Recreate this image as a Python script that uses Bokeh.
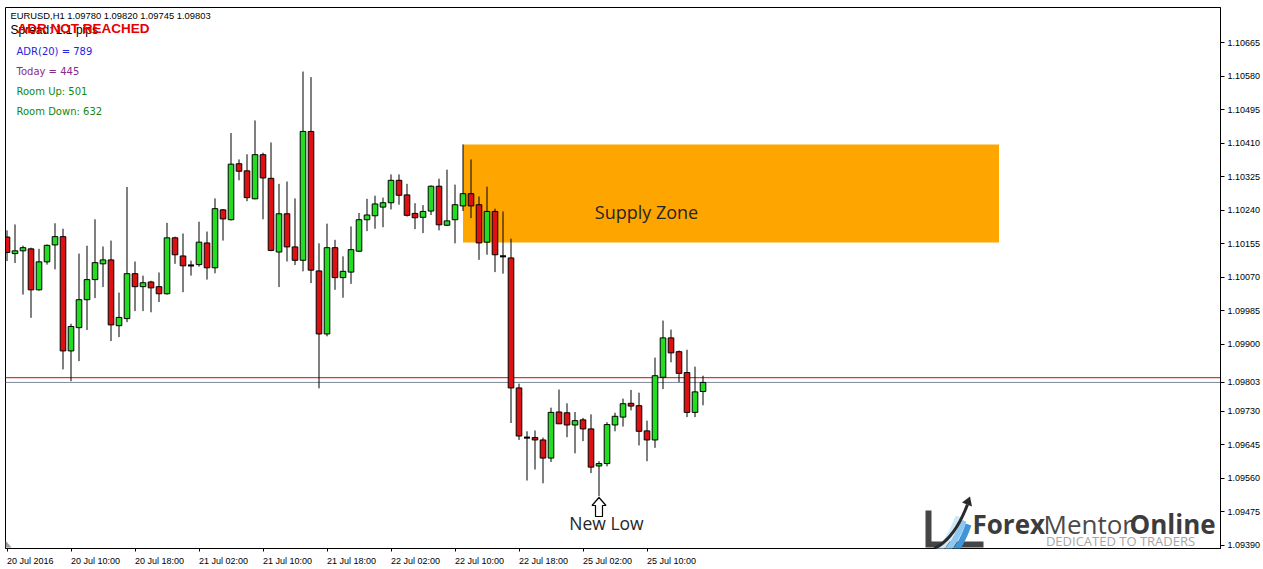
import numpy as np
from bokeh.plotting import figure
from bokeh.models import (Range1d, FixedTicker, PrintfTickFormatter, Span, Label,
                          PolyAnnotation, ColumnDataSource)
from bokeh.embed import file_html
from bokeh.resources import INLINE

# ---------------- data (EURUSD H1) ----------------
opens = [1.10172, 1.10130, 1.10137, 1.10142, 1.10038, 1.10109, 1.10152, 1.10173, 1.09883, 1.09942,
         1.10013, 1.10064, 1.10104, 1.10114, 1.09947, 1.09965, 1.10079, 1.10046, 1.10058, 1.10046,
         1.10028, 1.10170, 1.10124, 1.10100, 1.10102, 1.10157, 1.10094, 1.10241, 1.10216, 1.10358,
         1.10340, 1.10269, 1.10381, 1.10321, 1.10134, 1.10231, 1.10147, 1.10113, 1.10440, 1.10086,
         1.09926, 1.10145, 1.10069, 1.10083, 1.10136, 1.10216, 1.10226, 1.10248, 1.10259, 1.10316,
         1.10279, 1.10232, 1.10222, 1.10238, 1.10301, 1.10202, 1.10216, 1.10251, 1.10282, 1.10254,
         1.10159, 1.10237, 1.10123, 1.10119, 1.09789, 1.09663, 1.09663, 1.09657, 1.09611, 1.09728,
         1.09726, 1.09695, 1.09708, 1.09685, 1.09591, 1.09597, 1.09695, 1.09715, 1.09750, 1.09744,
         1.09680, 1.09657, 1.09816, 1.09916, 1.09881, 1.09828, 1.09727, 1.09780]
highs = [1.10189, 1.10204, 1.10150, 1.10145, 1.10142, 1.10153, 1.10207, 1.10193, 1.09952, 1.10130,
         1.10150, 1.10217, 1.10148, 1.10163, 1.10031, 1.10299, 1.10110, 1.10074, 1.10061, 1.10082,
         1.10208, 1.10173, 1.10181, 1.10112, 1.10211, 1.10186, 1.10270, 1.10243, 1.10436, 1.10369,
         1.10382, 1.10468, 1.10386, 1.10412, 1.10307, 1.10313, 1.10270, 1.10592, 1.10578, 1.10156,
         1.10206, 1.10165, 1.10123, 1.10199, 1.10233, 1.10269, 1.10277, 1.10272, 1.10331, 1.10331,
         1.10307, 1.10258, 1.10253, 1.10303, 1.10320, 1.10343, 1.10305, 1.10407, 1.10369, 1.10275,
         1.10300, 1.10244, 1.10237, 1.10168, 1.09800, 1.09679, 1.09681, 1.09663, 1.09739, 1.09785,
         1.09750, 1.09728, 1.09713, 1.09722, 1.09603, 1.09702, 1.09726, 1.09762, 1.09784, 1.09777,
         1.09706, 1.09866, 1.09960, 1.09937, 1.09884, 1.09886, 1.09843, 1.09820]
lows = [1.10111, 1.10106, 1.10026, 1.09967, 1.10036, 1.10102, 1.10090, 1.09836, 1.09806, 1.09857,
        1.09936, 1.10017, 1.10045, 1.09908, 1.09918, 1.09956, 1.09984, 1.09984, 1.09981, 1.10007,
        1.10026, 1.10104, 1.10032, 1.10074, 1.10097, 1.10064, 1.10080, 1.10163, 1.10214, 1.10316,
        1.10263, 1.10268, 1.10217, 1.10136, 1.10045, 1.10110, 1.10101, 1.10085, 1.10055, 1.09788,
        1.09920, 1.10038, 1.10018, 1.10053, 1.10134, 1.10187, 1.10193, 1.10197, 1.10242, 1.10254,
        1.10224, 1.10192, 1.10182, 1.10228, 1.10189, 1.10200, 1.10156, 1.10238, 1.10220, 1.10114,
        1.10127, 1.10083, 1.10079, 1.09700, 1.09657, 1.09554, 1.09582, 1.09547, 1.09601, 1.09698,
        1.09664, 1.09623, 1.09654, 1.09573, 1.09514, 1.09590, 1.09679, 1.09691, 1.09732, 1.09643,
        1.09603, 1.09637, 1.09786, 1.09854, 1.09804, 1.09715, 1.09715, 1.09745]
closes = [1.10133, 1.10137, 1.10145, 1.10038, 1.10109, 1.10151, 1.10173, 1.09883, 1.09945, 1.10013,
          1.10064, 1.10107, 1.10114, 1.09949, 1.09968, 1.10079, 1.10046, 1.10056, 1.10043, 1.10028,
          1.10170, 1.10127, 1.10099, 1.10100, 1.10159, 1.10094, 1.10244, 1.10218, 1.10357, 1.10339,
          1.10272, 1.10381, 1.10322, 1.10138, 1.10231, 1.10147, 1.10113, 1.10440, 1.10088, 1.09926,
          1.10145, 1.10069, 1.10085, 1.10140, 1.10216, 1.10228, 1.10256, 1.10259, 1.10316, 1.10278,
          1.10227, 1.10221, 1.10237, 1.10301, 1.10203, 1.10213, 1.10254, 1.10282, 1.10251, 1.10157,
          1.10237, 1.10127, 1.10123, 1.09789, 1.09667, 1.09663, 1.09657, 1.09611, 1.09727, 1.09698,
          1.09695, 1.09706, 1.09685, 1.09588, 1.09597, 1.09696, 1.09717, 1.09749, 1.09743, 1.09679,
          1.09657, 1.09820, 1.09916, 1.09878, 1.09826, 1.09727, 1.09779, 1.09803]

time_ticks = [0, 8, 16, 24, 32, 40, 48, 56, 64, 72, 80]
time_labels = ["20 Jul 2016", "20 Jul 10:00", "20 Jul 18:00", "21 Jul 02:00", "21 Jul 10:00",
               "21 Jul 18:00", "22 Jul 02:00", "22 Jul 10:00", "22 Jul 18:00", "25 Jul 02:00",
               "25 Jul 10:00"]
price_ticks = [1.10665, 1.10580, 1.10495, 1.10410, 1.10325, 1.10240, 1.10155, 1.10070,
               1.09985, 1.09900, 1.09730, 1.09645, 1.09560, 1.09475, 1.09390]

zone_start, zone_end = 57, 124
zone_top, zone_bottom = 1.10407, 1.10158
bid_price = 1.09803
ask_price = 1.09815
new_low_bar = 74

header = "EURUSD,H1  1.09780 1.09820 1.09745 1.09803"
info_texts = ["ADR(20) = 789", "Today = 445", "Room Up: 501", "Room Down: 632"]
info_colors = ["#2424e0", "#8a2b8a", "#118811", "#118811"]

# ---------------- layout ----------------
W, H = 1263, 569
LB, TB, RB, BB = 5, 7, 43, 21
FW, FH = W - LB - RB, H - TB - BB
PXB = 8.0                 # pixels per bar
PXP = 39400.0             # pixels per price unit
X0 = (LB - 6.5) / PXB
X1 = X0 + FW / PXB
Y1 = 1.10665 + (42.3 - TB) / PXP
Y0 = Y1 - FH / PXP


def X(px):
    return X0 + (np.asarray(px, dtype=float) - LB) / PXB


def Y(py):
    return Y1 - (np.asarray(py, dtype=float) - TB) / PXP


p = figure(width=W, height=H, x_range=Range1d(X0, X1), y_range=Range1d(Y0, Y1),
           y_axis_location="right", toolbar_location=None, output_backend="svg",
           min_border_left=LB, min_border_top=TB, min_border_right=RB, min_border_bottom=BB,
           background_fill_color="white", border_fill_color="white",
           outline_line_color="black")
p.grid.visible = False

# supply zone
p.quad(left=[zone_start], right=[zone_end], top=[zone_top], bottom=[zone_bottom],
       fill_color="#ffa500", line_color=None)

# price lines
p.add_layout(Span(location=ask_price, dimension="width", line_color="#e60000",
                  line_width=1, level="underlay"))
p.add_layout(Span(location=bid_price, dimension="width", line_color="#7d8a99",
                  line_width=1, level="underlay"))

# candles
idx = list(range(len(opens)))
up = [c >= o for o, c in zip(opens, closes)]
src = ColumnDataSource(dict(
    x=idx, h=highs, l=lows,
    top=[max(o, c) for o, c in zip(opens, closes)],
    bottom=[min(o, c) for o, c in zip(opens, closes)],
    color=["#22dd22" if u else "#dd1111" for u in up]))
p.segment(x0="x", y0="h", x1="x", y1="l", source=src, line_color="black", line_width=1)
p.vbar(x="x", top="top", bottom="bottom", width=0.7, fill_color="color",
       line_color="black", line_width=1, source=src)
dj = [i for i in idx if opens[i] == closes[i]]
p.segment(x0=[i - 0.38 for i in dj], x1=[i + 0.38 for i in dj],
          y0=[opens[i] for i in dj], y1=[opens[i] for i in dj],
          line_color="black", line_width=2)

# price axis (right)
yax = p.yaxis[0]
yax.ticker = FixedTicker(ticks=price_ticks + [bid_price])
yax.formatter = PrintfTickFormatter(format="%.5f")
yax.major_label_text_font = "Liberation Sans"
yax.major_label_text_font_size = "9px"
yax.major_label_text_color = "black"
yax.major_tick_out = 4
yax.major_tick_in = 0
yax.minor_tick_out = 0
yax.minor_tick_in = 0
yax.major_label_standoff = 3
yax.axis_line_color = "black"

# time axis (below): labels start right at each tick, as in MT4
cw = {d: 5.0 for d in "0123456789"}
cw.update({" ": 2.5, "J": 4.5, "u": 5.0, "l": 2.0, ":": 2.5})
label_pos = [round(t + (sum(cw.get(ch, 5.0) for ch in s) / 2) / PXB, 3)
             for t, s in zip(time_ticks, time_labels)]
xax = p.xaxis[0]
xax.ticker = FixedTicker(ticks=label_pos, minor_ticks=time_ticks)
xax.major_label_overrides = {t: s for t, s in zip(label_pos, time_labels)}
xax.major_label_text_font = "Liberation Sans"
xax.major_label_text_font_size = "9px"
xax.major_label_text_color = "black"
xax.major_tick_out = 0
xax.major_tick_in = 0
xax.minor_tick_out = 3
xax.minor_tick_in = 0
xax.minor_tick_line_color = "black"
xax.major_label_standoff = 4
xax.axis_line_color = "black"

# header + indicator texts
p.add_layout(Label(x=float(X(10)), y=float(Y(15)), text=header, text_font="Liberation Sans",
                   text_font_size="9.4px", text_color="black", text_baseline="middle"))
p.add_layout(Label(x=float(X(10)), y=float(Y(29)), text="Spread: 1.1 pips",
                   text_font="Liberation Sans", text_font_size="12px", text_color="black",
                   text_baseline="middle"))
p.add_layout(Label(x=float(X(17)), y=float(Y(28)), text="ADR NOT REACHED",
                   text_font="Liberation Sans", text_font_size="13.5px", text_font_style="bold",
                   text_color="#e60000", text_baseline="middle"))
for k, (t, c) in enumerate(zip(info_texts, info_colors)):
    p.add_layout(Label(x=float(X(16)), y=float(Y(51 + 20 * k)), text=t,
                       text_font="DejaVu Sans", text_font_size="10px", text_color=c,
                       text_baseline="middle"))

# annotations on the chart
p.add_layout(Label(x=float(X(646)), y=float(Y(211)), text="Supply Zone", text_font="Open Sans",
                   text_font_size="18px", text_color="#262626", text_align="center",
                   text_baseline="middle"))
p.add_layout(Label(x=float(X(606)), y=float(Y(522)), text="New Low", text_font="Open Sans",
                   text_font_size="17.5px", text_color="#262626", text_align="center",
                   text_baseline="middle"))
cx = 6.5 + PXB * new_low_bar
ax_px = [cx, cx + 7, cx + 3.5, cx + 3.5, cx - 3.5, cx - 3.5, cx - 7]
ay_px = [497, 505, 505, 516, 516, 505, 505]
p.patch(X(ax_px), Y(ay_px), fill_color="white", line_color="black", line_width=1.2)

# chart-shift marker
p.add_layout(PolyAnnotation(xs=list(X([5, 5, 11])), ys=list(Y([540, 547, 547])),
                            fill_color="#9a9a9a", fill_alpha=1.0, line_color=None))


# ---------------- watermark logo ----------------
def curve(p0, c, p2, n=24):
    t = np.linspace(0, 1, n)
    x = (1 - t) ** 2 * p0[0] + 2 * (1 - t) * t * c[0] + t ** 2 * p2[0]
    y = (1 - t) ** 2 * p0[1] + 2 * (1 - t) * t * c[1] + t ** 2 * p2[1]
    return x, y


def band(p0, c, p2, w):
    x, y = curve(p0, c, p2)
    dx, dy = np.gradient(x), np.gradient(y)
    L = np.hypot(dx, dy)
    nx, ny = -dy / L, dx / L
    xs = np.concatenate([x + nx * w / 2, (x - nx * w / 2)[::-1]])
    ys = np.concatenate([y + ny * w / 2, (y - ny * w / 2)[::-1]])
    return xs, ys


def poly(xs, ys, color):
    p.add_layout(PolyAnnotation(xs=list(X(xs)), ys=list(Y(ys)), fill_color=color,
                                fill_alpha=1.0, line_color=None))


dxl = -12
poly(np.array([937, 943, 943, 995, 995, 937]) + dxl, [510, 510, 541, 541, 547, 547], "#454545")
for k, col in enumerate(["#cfe8f8", "#8fc7ee", "#3f95d8"]):
    bx, by = band((948 + 8 * k + dxl, 552 + k), (960 + 7 * k + dxl, 542),
                  (970 + 5 * k + dxl, 516 + 4 * k), 6)
    poly(bx, by, col)
ax_, ay_ = band((946 + dxl, 548), (966 + dxl, 538), (979 + dxl, 504), 3)
poly(ax_, ay_, "#2a2a2a")
poly(np.array([981.5, 983.5, 973.5]) + dxl, [496, 506, 502], "#2a2a2a")

for txt, xp, style, col in [("Forex", 972, "bold", "#3c3c3c"),
                            ("Mentor", 1043, "normal", "#4a4a4a"),
                            ("Online", 1129, "bold", "#3c3c3c")]:
    p.add_layout(Label(x=float(X(xp)), y=float(Y(523)), text=txt, text_font="Open Sans",
                       text_font_size="26px", text_font_style=style, text_color=col,
                       text_baseline="middle", text_align="left"))
p.add_layout(Label(x=float(X(1120)), y=float(Y(540)), text="DEDICATED TO TRADERS",
                   text_font="Open Sans", text_font_size="13px", text_color="#a6a6a6",
                   text_baseline="middle", text_align="center"))

open("out.html", "w").write(file_html(p, INLINE))
